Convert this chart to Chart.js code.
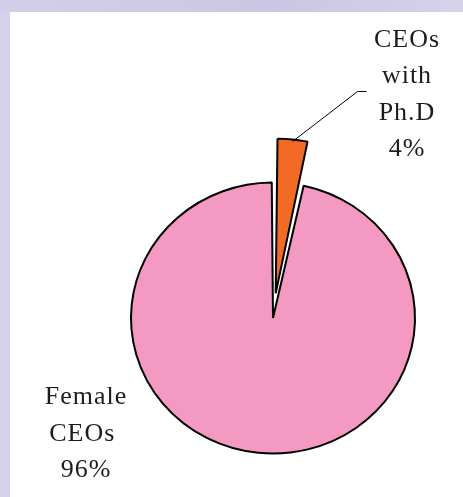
<!DOCTYPE html>
<html>
<head>
<meta charset="utf-8">
<script src="https://cdn.jsdelivr.net/npm/chart.js@4"></script>
<style>
  html, body { margin: 0; padding: 0; }
  body {
    width: 463px; height: 497px; overflow: hidden;
    background: #d5d1e9;
  }
  #top { position: absolute; left: 0; top: 0; width: 463px; height: 12px;
         background: linear-gradient(to right, #d3cfe8, #cbc6e3 60%, #d6d2ea); }
  #panel { position: absolute; left: 10px; top: 12px; width: 453px; height: 485px; background: #fff; }
</style>
</head>
<body>
<div id="top"></div>
<div id="panel"><canvas id="pieChart" width="453" height="485"></canvas></div>
<script>
var categories = [['CEOs', 'with', 'Ph.D'], ['Female', 'CEOs ']];
var values = [3.6, 96.4];
var colors = ['#f26a24', '#f49ac2'];
var explode = [104, 0];

var total = values.reduce(function (a, b) { return a + b; }, 0);
var squash = 0.954;

// excel pie is a bit wider than tall, so squeeze the arcs vertically
var squashPlugin = {
    id: 'squash',
    beforeDatasetsDraw: function (chart) {
        var arc = chart.getDatasetMeta(0).data[0];
        var ctx = chart.ctx;
        ctx.save();
        ctx.translate(arc.x, arc.y);
        ctx.scale(1, squash);
        ctx.translate(-arc.x, -arc.y);
    },
    afterDatasetsDraw: function (chart) {
        chart.ctx.restore();
    }
};

var labelPlugin = {
    id: 'pieLabels',
    afterDraw: function (chart) {
        var ctx = chart.ctx;
        var arcs = chart.getDatasetMeta(0).data;
        var cx = arcs[0].x, cy = arcs[0].y;
        ctx.save();
        ctx.fillStyle = '#1c1c1c';
        ctx.font = '26px "Times New Roman", "Liberation Serif", "DejaVu Serif", serif';
        ctx.letterSpacing = '1px';
        ctx.textAlign = 'center';
        ctx.textBaseline = 'alphabetic';

        // leader line from the exploded slice
        var a = arcs[0];
        var mid = (a.startAngle + a.endAngle) / 2;
        var fix = 1 - Math.sin(Math.min(Math.PI, a.circumference));
        var shift = explode[0] / 4 * (1 + fix);
        var sx = cx + Math.cos(mid) * (shift + a.outerRadius);
        var sy = cy + Math.sin(mid) * (shift + a.outerRadius) * squash;
        ctx.strokeStyle = '#000';
        ctx.lineWidth = 1;
        ctx.beginPath();
        ctx.moveTo(sx, sy + 2);
        ctx.lineTo(sx + 65, sy - 48);
        ctx.lineTo(sx + 74, sy - 48);
        ctx.stroke();

        var lines0 = categories[0].concat([Math.round(values[0] / total * 100) + '%']);
        lines0.forEach(function (t, i) {
            ctx.fillText(t, cx + 134, cy - 271 + i * 36.3);
        });
        var lines1 = categories[1].concat([Math.round(values[1] / total * 100) + '%']);
        lines1.forEach(function (t, i) {
            ctx.fillText(t, cx - 187, cy + 86 + i * 36.5);
        });
        ctx.restore();
    }
};

var ctx = document.getElementById('pieChart').getContext('2d');
var pieChart = new Chart(ctx, {
    type: 'pie',
    data: {
        labels: categories.map(function (c) { return c.join(' '); }),
        datasets: [{
            data: values,
            backgroundColor: colors,
            borderColor: '#000',
            borderWidth: 2,
            offset: explode,
            hoverOffset: 0
        }]
    },
    options: {
        responsive: false,
        animation: false,
        rotation: -0.5,
        radius: 142,
        layout: { padding: { left: 73, right: 0, top: 127, bottom: 0 } },
        plugins: {
            legend: { display: false },
            tooltip: { enabled: false }
        }
    },
    plugins: [squashPlugin, labelPlugin]
});
</script>
</body>
</html>
